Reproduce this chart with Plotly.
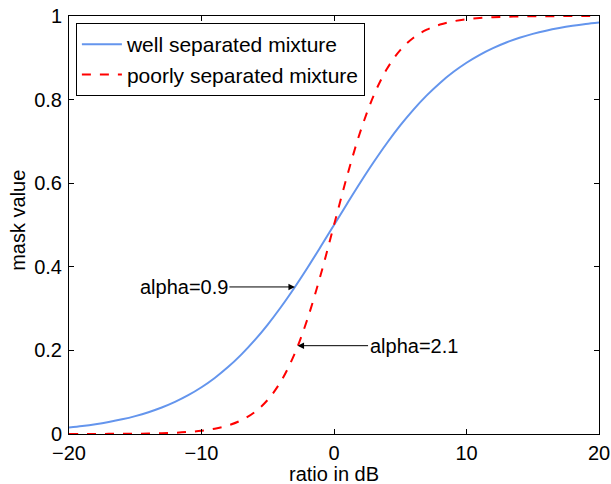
import numpy as np
import plotly.graph_objects as go

ratio_db = list(range(-20, 21))
well_separated = [0.0156, 0.0191, 0.0234, 0.0287, 0.0351, 0.0428, 0.0521, 0.0633, 0.0768, 0.0928,
                  0.1118, 0.1341, 0.1600, 0.1899, 0.2239, 0.2619, 0.3039, 0.3494, 0.3978, 0.4484,
                  0.5000,
                  0.5516, 0.6022, 0.6506, 0.6961, 0.7381, 0.7761, 0.8101, 0.8400, 0.8659, 0.8882,
                  0.9072, 0.9232, 0.9367, 0.9479, 0.9572, 0.9649, 0.9713, 0.9766, 0.9809, 0.9844]
poorly_separated = [0.0001, 0.0001, 0.0002, 0.0003, 0.0004, 0.0007, 0.0011, 0.0019, 0.0030, 0.0049,
                    0.0079, 0.0127, 0.0205, 0.0328, 0.0521, 0.0818, 0.1263, 0.1899, 0.2755, 0.3814,
                    0.5000,
                    0.6186, 0.7245, 0.8101, 0.8737, 0.9182, 0.9479, 0.9672, 0.9795, 0.9873, 0.9921,
                    0.9951, 0.9970, 0.9981, 0.9989, 0.9993, 0.9996, 0.9997, 0.9998, 0.9999, 0.9999]
series_names = ["well separated mixture", "poorly separated mixture"]
annot_texts = ["alpha=0.9", "alpha=2.1"]
annot_x = [-2.95, -2.75]
x_title = "ratio in dB"
y_title = "mask value"

x_ticks = [-20, -10, 0, 10, 20]
y_ticks = [0, 0.2, 0.4, 0.6, 0.8, 1]
y_tick_labels = ["0", "0.2", "0.4", "0.6", "0.8", "1"]

FONT = "Liberation Sans, Arial, sans-serif"
FS = 20

fig = go.Figure()
fig.add_trace(go.Scatter(x=ratio_db, y=well_separated, mode="lines", name=series_names[0],
                         line=dict(color="#6495ED", width=2, shape="spline")))
fig.add_trace(go.Scatter(x=ratio_db, y=poorly_separated, mode="lines", name=series_names[1],
                         line=dict(color="#FF0000", width=2, dash="dash", shape="spline")))

head0 = (annot_x[0], float(np.interp(annot_x[0], ratio_db, well_separated)))
head1 = (annot_x[1], float(np.interp(annot_x[1], ratio_db, poorly_separated)))
for (hx, hy), txt, off in [(head0, annot_texts[0], -111), (head1, annot_texts[1], 116)]:
    fig.add_annotation(x=hx, y=hy, text=txt, showarrow=True, ax=off, ay=0,
                       arrowhead=2, arrowsize=1.3, arrowwidth=1, arrowcolor="black",
                       font=dict(size=FS, color="black", family=FONT))

# axis titles
fig.add_annotation(x=0.5, y=0, xref="paper", yref="paper", text=x_title, showarrow=False,
                   xanchor="center", yanchor="top", yshift=-27,
                   font=dict(size=FS, color="black", family=FONT))
fig.add_annotation(x=0, y=0.51, xref="paper", yref="paper", text=y_title, showarrow=False,
                   textangle=-90, xanchor="center", yanchor="middle", xshift=-51,
                   font=dict(size=FS, color="black", family=FONT))

axis_common = dict(showline=True, linecolor="black", linewidth=1, mirror="ticks",
                   ticks="inside", ticklen=5, tickcolor="black", showgrid=False, zeroline=False,
                   automargin=False,
                   tickfont=dict(size=FS, color="black", family=FONT))
fig.update_xaxes(range=[-20, 20], tickvals=x_ticks, ticklabelstandoff=1, **axis_common)
fig.update_yaxes(range=[0, 1], tickvals=y_ticks, ticktext=y_tick_labels, ticklabelstandoff=2,
                 **axis_common)

fig.update_layout(width=611, height=484, margin=dict(l=69, r=12, t=16, b=50),
                  plot_bgcolor="white", paper_bgcolor="white",
                  font=dict(family=FONT, color="black", size=FS),
                  legend=dict(x=0.013, y=0.983, xanchor="left", yanchor="top",
                              bordercolor="black", borderwidth=1, bgcolor="white",
                              font=dict(size=21, family=FONT), tracegroupgap=0,
                              itemwidth=40))
fig.write_html("out.html", post_script="document.body.style.margin='0';",
               config={"displayModeBar": False})
